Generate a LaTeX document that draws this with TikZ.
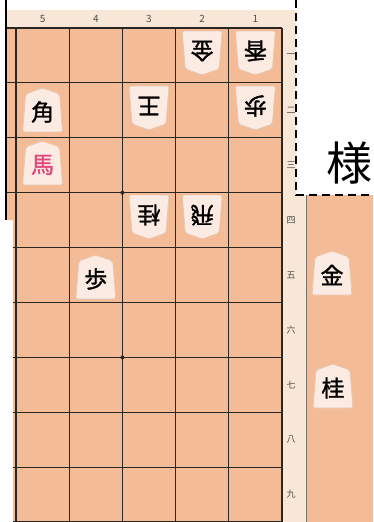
\documentclass[tikz,border=0pt]{standalone}
\usepackage{fontspec}
\usepackage{xcolor}
\usepackage{tikz}
\usetikzlibrary{positioning}
\newfontfamily\jpfont{Noto Sans CJK JP}
\newfontfamily\komafont[FakeBold=1.4]{Noto Sans CJK JP}

\definecolor{boardwood}{HTML}{F4BC96}
\definecolor{stripbeige}{HTML}{F8E7D6}
\definecolor{komafill}{HTML}{FCEBE3}
\definecolor{komaedge}{HTML}{E8C6B0}
\definecolor{lineink}{HTML}{2A2624}
\definecolor{umared}{HTML}{E0477C}

% piece: [colour]{name}{x}{y}{angle}{text}
\newcommand{\koma}[6][black]{%
  \begin{scope}[shift={(#3,#4)}, rotate=#5]
    \fill[komafill, draw=komaedge, line width=0.8pt, rounded corners=2pt]
      (0,-22) -- (17,-16) -- (20,22) -- (-20,22) -- (-17,-16) -- cycle;
    \node[komatext, text=#1, rotate=#5] (#2) at (0,2) {#6};
  \end{scope}}

\begin{document}
\begin{tikzpicture}[x=1pt, y=-1pt,
  komatext/.style={font=\komafont\fontsize{23}{23}\selectfont, inner sep=0pt},
  sujitext/.style={font=\jpfont\fontsize{10}{10}\selectfont, text=black!70, inner sep=0pt},
  dantext/.style={font=\jpfont\fontsize{9}{9}\selectfont, text=black!70, inner sep=0pt},
  gridline/.style={draw=lineink, line width=1.2pt},
  cutline/.style={draw=black, line width=2pt, dash pattern=on 8pt off 5pt}
]
\useasboundingbox (0,0) rectangle (373,522);
\fill[white] (0,0) rectangle (373,522);

% board, coordinate strips and stand
\fill[stripbeige] (7,10) -- (306,10) -- (306,522) -- (13,522) -- (13,220) -- (7,220) -- cycle;
\fill[boardwood] (7,28) -- (282,28) -- (282,522) -- (13,522) -- (13,220) -- (7,220) -- cycle;
\fill[boardwood] (306,195) rectangle (373,522);
\draw[black!55, line width=0.8pt] (306.5,195) -- (306.5,522);
\fill[white] (296,0) rectangle (373,195);

% grid
\foreach \r in {0,...,3}
  \draw[gridline] (7,{28+54.89*\r}) -- (282,{28+54.89*\r});
\foreach \r in {4,...,9}
  \draw[gridline] (13,{28+54.89*\r}) -- (282,{28+54.89*\r});
\foreach \c in {0,...,4}
  \draw[gridline] ({16+53.2*\c},28) -- ({16+53.2*\c},522);
\draw[gridline, line width=1.5pt] (282,28) -- (282,522);
\fill[lineink] (122.4,192.7) circle (2pt);
\fill[lineink] (122.4,357.4) circle (2pt);

% cut marks
\draw[cutline] (296,0) -- (296,195) -- (373,195);
\draw[black, line width=2.5pt] (6,0) -- (6,220);

% coordinates
\foreach \n [count=\i] in {5,4,3,2,1}
  \node[sujitext] (suji\n) at ({16+53.2*(\i-0.5)},19) {\n};
\foreach \k [count=\i] in {一,二,三,四,五,六,七,八,九}
  \node[dantext] (dan\i) at (291,{28+54.89*(\i-0.5)}) {\k};

\node[font=\jpfont\fontsize{46}{46}\selectfont, inner sep=0pt] (sama) at (349,163) {様};

% pieces on the board
\koma{gote21}{202.2}{53}{180}{金}
\koma{gote11}{255.4}{53}{180}{香}
\koma{sente52}{42.6}{110}{0}{角}
\koma{gote32}{149}{108}{180}{王}
\koma{gote12}{255.4}{108}{180}{歩}
\koma[umared]{sente53}{42.6}{163}{0}{馬}
\koma{gote34}{149}{217}{180}{桂}
\koma{gote24}{202.2}{217}{180}{飛}
\koma{sente45}{95.8}{277}{0}{歩}

% pieces in hand
\koma{motikin}{332}{273}{0}{金}
\koma{motikei}{333}{386}{0}{桂}
\end{tikzpicture}
\end{document}
